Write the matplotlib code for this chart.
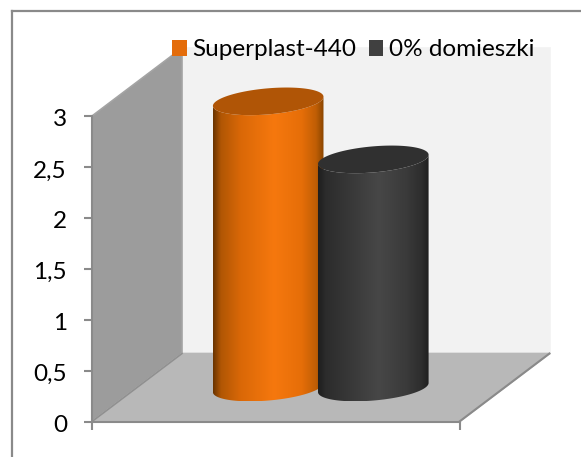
import numpy as np
import matplotlib
matplotlib.use("Agg")
import matplotlib.pyplot as plt
from matplotlib.colors import LinearSegmentedColormap
from matplotlib.lines import Line2D
from matplotlib.patches import Patch, PathPatch, Polygon
from matplotlib.path import Path
from matplotlib.transforms import ScaledTranslation

plt.rcParams["font.family"] = ["Lato", "DejaVu Sans"]

# =====================================
# Data
# =====================================
series_names = ["Superplast-440", "0% domieszki"]
series_values = [2.81, 2.24]
series_slots = [0.357, 0.643]
y_ticks = [0, 0.5, 1, 1.5, 2, 2.5, 3]
y_tick_labels = ["0", "0,5", "1", "1,5", "2", "2,5", "3"]

legend_colors = ["#e46c0a", "#404040"]
top_colors = ["#b05506", "#303030"]
stop_positions = [0, 0.07, 0.25, 0.55, 0.8, 0.93, 1]
body_stops = [
    ["#6a3400", "#b05604", "#da6807", "#f6780e", "#e66e08", "#c05e05", "#8a4500"],
    ["#1e1e1e", "#2c2c2c", "#363636", "#474747", "#3a3a3a", "#2e2e2e", "#1f1f1f"],
]

# Figure geometry in pixels, front plane of the 3D box
W, H = 581, 457
LEFT, RIGHT, BOTTOM, TOP = 92, 459.5, 421.5, 116
DEPTH_X, DEPTH_Y = 90, 68
GRAY = "#8a8a8a"

fig = plt.figure(figsize=(W / 100, H / 100), dpi=100)
ax = fig.add_axes([LEFT / W, 1 - BOTTOM / H, (RIGHT - LEFT) / W, (BOTTOM - TOP) / H])
ax.set_xlim(0, 1)
ax.set_ylim(0, 3)
ax.patch.set_visible(False)
SX = RIGHT - LEFT
SY = (BOTTOM - TOP) / 3
DX = DEPTH_X / SX
DY = DEPTH_Y / SY

# Chart frame, cut by the image on the right and bottom
fig.add_artist(Line2D([12 / W, 12 / W], [0, 1 - 10.5 / H], color=GRAY, lw=1.6))
fig.add_artist(Line2D([12 / W, 1], [1 - 10.5 / H, 1 - 10.5 / H], color=GRAY, lw=1.6))


# =====================================
# Box walls and floor
# =====================================
def box_face(points, color, edge=None, z=1):
    ax.add_patch(Polygon(points, closed=True, facecolor=color, edgecolor=edge or color,
                         lw=1.2, clip_on=False, zorder=z))


box_face([(DX, DY), (1 + DX, DY), (1 + DX, 3 + DY), (DX, 3 + DY)], "#f2f2f2", z=1)
box_face([(0, 0), (DX, DY), (DX, 3 + DY), (0, 3)], "#9c9c9c", edge="#a4a4a4", z=2)
box_face([(0, 0), (DX, DY), (1 + DX, DY), (1, 0)], "#b8b8b8", z=2)
ax.plot([0, DX], [0, DY], color="#909090", lw=1.2, clip_on=False, zorder=3)
ax.plot([1, 1 + DX], [0, DY], color=GRAY, lw=1.5, clip_on=False, zorder=3)


# =====================================
# Cylinders
# =====================================
def ellipse_points(cx, cy, t, a=55.5, b=13.0, tilt=np.radians(5)):
    """Tilted ellipse in data units, sizes given in pixels."""
    px = a * np.cos(t) * np.cos(tilt) - b * np.sin(t) * np.sin(tilt)
    py = a * np.cos(t) * np.sin(tilt) + b * np.sin(t) * np.cos(tilt)
    return cx + px / SX, cy + py / SY


def draw_cylinder(slot, value, stops, top_color, z):
    cx = slot + DX / 2
    cy = DY / 2
    t_lower = np.linspace(np.pi, 2 * np.pi, 80)
    bx, by = ellipse_points(cx, cy, t_lower)
    tx, ty = ellipse_points(cx, cy + value, t_lower)
    outline = np.vstack([np.column_stack([bx, by]),
                         np.column_stack([tx, ty])[::-1]])
    cmap = LinearSegmentedColormap.from_list("body", list(zip(stop_positions, stops)))
    x0, x1 = outline[:, 0].min(), outline[:, 0].max()
    img = ax.imshow(np.linspace(0, 1, 256)[None, :], cmap=cmap, aspect="auto",
                    extent=[x0, x1, outline[:, 1].min(), outline[:, 1].max()], zorder=z)
    img.set_clip_path(Polygon(outline, closed=True, transform=ax.transData))
    img.set_clip_box(fig.bbox)  # the cap rises above the axes box
    t_full = np.linspace(0, 2 * np.pi, 160)
    ex, ey = ellipse_points(cx, cy + value, t_full)
    ax.add_patch(PathPatch(Path(np.column_stack([ex, ey])), facecolor=top_color,
                           edgecolor="none", clip_on=False, zorder=z + 0.5))


for i in range(len(series_values)):
    draw_cylinder(series_slots[i], series_values[i], body_stops[i], top_colors[i], 4 + i)
ax.set_xlim(0, 1)
ax.set_ylim(0, 3)
ax.set_aspect("auto")

# =====================================
# Axes, ticks and legend
# =====================================
for name in ["top", "right"]:
    ax.spines[name].set_visible(False)
for name in ["left", "bottom"]:
    ax.spines[name].set_color(GRAY)
    ax.spines[name].set_linewidth(1.5)
    ax.spines[name].set_zorder(3)
ax.set_xticks([0, 1])
ax.set_xticklabels([])
ax.set_yticks(y_ticks)
ax.set_yticklabels(y_tick_labels)
ax.tick_params(axis="both", color=GRAY, width=1.5, length=6, direction="out")
ax.tick_params(axis="y", labelsize=17.5, pad=12, labelcolor="black")
shift = ScaledTranslation(0, -2 / 100, fig.dpi_scale_trans)
for label in ax.get_yticklabels():
    label.set_transform(label.get_transform() + shift)

handles = [Patch(facecolor=c, edgecolor="none") for c in legend_colors]
fig.legend(handles, series_names, ncol=2, frameon=False, fontsize=17.5,
           loc="center left", bbox_to_anchor=(172 / W, 1 - 50 / H),
           borderpad=0, borderaxespad=0, handlelength=0.6, handleheight=0.6,
           handletextpad=0.25, columnspacing=0.5, labelcolor="black")

fig.savefig("out.png", dpi=100)
